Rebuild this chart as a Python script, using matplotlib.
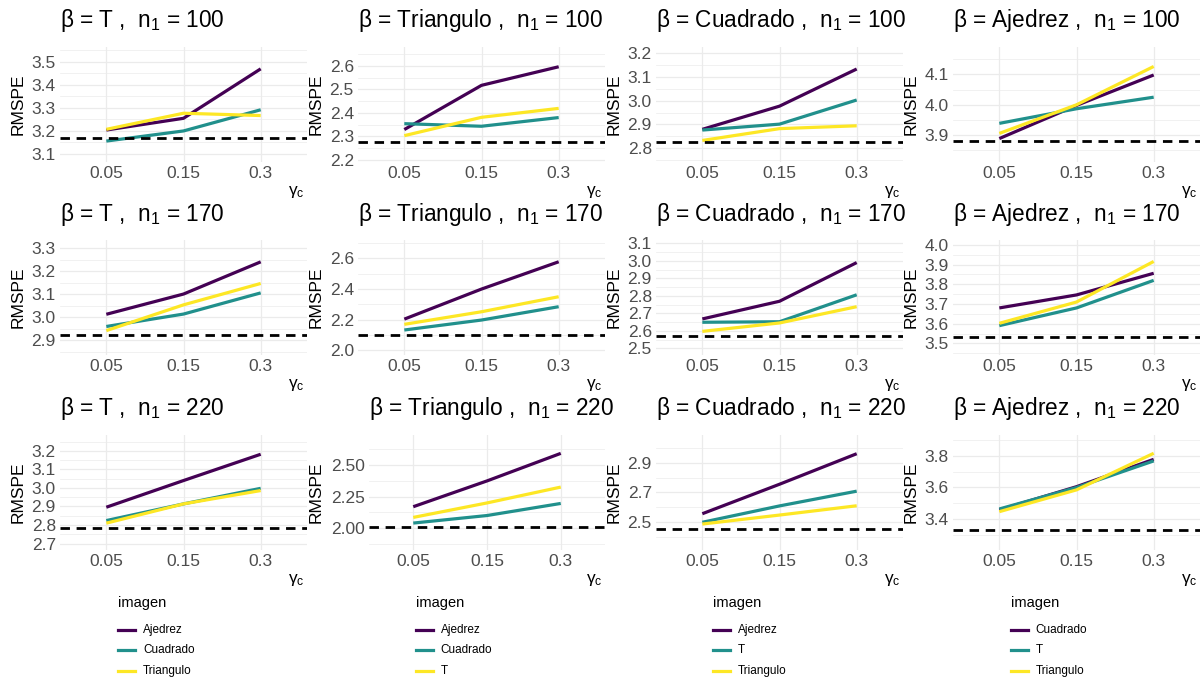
import matplotlib
matplotlib.use('Agg')
import matplotlib.pyplot as plt
from matplotlib.lines import Line2D
from matplotlib.ticker import FixedLocator, FormatStrFormatter

plt.rcParams['font.family'] = ['Liberation Sans', 'DejaVu Sans']
plt.rcParams['mathtext.fontset'] = 'custom'
plt.rcParams['mathtext.rm'] = 'Liberation Sans'
plt.rcParams['mathtext.it'] = 'Liberation Sans'
plt.rcParams['mathtext.bf'] = 'Liberation Sans:bold'
plt.rcParams['mathtext.default'] = 'rm'

# ---------------- data ----------------
gamma_labels = ['0.05', '0.15', '0.3']
n1_values = [100, 170, 220]
beta_names = ['T', 'Triangulo', 'Cuadrado', 'Ajedrez']
series_names = [
    ['Ajedrez', 'Cuadrado', 'Triangulo'],
    ['Ajedrez', 'Cuadrado', 'T'],
    ['Ajedrez', 'T', 'Triangulo'],
    ['Cuadrado', 'T', 'Triangulo'],
]

# rows: n1 = 100, 170, 220 ; columns: gamma_c = 0.05, 0.15, 0.3
T_ajedrez = [[3.204, 3.255, 3.470], [3.013, 3.101, 3.241], [2.896, 3.040, 3.182]]
T_cuadrado = [[3.156, 3.200, 3.292], [2.960, 3.014, 3.106], [2.824, 2.914, 2.998]]
T_triangulo = [[3.207, 3.277, 3.267], [2.942, 3.054, 3.147], [2.810, 2.914, 2.986]]
T_baseline = [3.168, 2.925, 2.786]

Tri_ajedrez = [[2.329, 2.517, 2.596], [2.204, 2.400, 2.578], [2.170, 2.375, 2.594]]
Tri_cuadrado = [[2.354, 2.343, 2.380], [2.133, 2.198, 2.285], [2.040, 2.100, 2.196]]
Tri_T = [[2.303, 2.381, 2.419], [2.170, 2.252, 2.350], [2.085, 2.200, 2.326]]
Tri_baseline = [2.276, 2.100, 2.005]

Cua_ajedrez = [[2.879, 2.977, 3.134], [2.668, 2.769, 2.990], [2.556, 2.756, 2.963]]
Cua_T = [[2.876, 2.901, 3.003], [2.649, 2.652, 2.806], [2.498, 2.609, 2.709]]
Cua_triangulo = [[2.832, 2.882, 2.894], [2.597, 2.645, 2.738], [2.486, 2.547, 2.610]]
Cua_baseline = [2.825, 2.571, 2.451]

Aje_cuadrado = [[3.889, 3.998, 4.098], [3.680, 3.746, 3.856], [3.459, 3.605, 3.777]]
Aje_T = [[3.939, 3.987, 4.025], [3.590, 3.680, 3.820], [3.465, 3.600, 3.767]]
Aje_triangulo = [[3.906, 4.000, 4.126], [3.602, 3.710, 3.916], [3.448, 3.585, 3.815]]
Aje_baseline = [3.881, 3.534, 3.333]

# y tick labels shown on each panel (row, column)
yticks = [
    [[3.1, 3.2, 3.3, 3.4, 3.5], [2.2, 2.3, 2.4, 2.5, 2.6], [2.8, 2.9, 3.0, 3.1, 3.2], [3.9, 4.0, 4.1]],
    [[2.9, 3.0, 3.1, 3.2, 3.3], [2.0, 2.2, 2.4, 2.6], [2.5, 2.6, 2.7, 2.8, 2.9, 3.0, 3.1], [3.5, 3.6, 3.7, 3.8, 3.9, 4.0]],
    [[2.7, 2.8, 2.9, 3.0, 3.1, 3.2], [2.00, 2.25, 2.50], [2.5, 2.7, 2.9], [3.4, 3.6, 3.8]],
]

column_series = [
    [T_ajedrez, T_cuadrado, T_triangulo],
    [Tri_ajedrez, Tri_cuadrado, Tri_T],
    [Cua_ajedrez, Cua_T, Cua_triangulo],
    [Aje_cuadrado, Aje_T, Aje_triangulo],
]
column_baselines = [T_baseline, Tri_baseline, Cua_baseline, Aje_baseline]

# ---------------- layout / style ----------------
colors = ['#440154', '#21908C', '#FDE725']
W, H = 1204, 680
col_left = [60, 358, 656, 953]
col_right = [307, 605, 903, 1200]
row_top = [47, 240, 435]
ph = 115

ylims = [
    [(3.065, 3.565), (2.191, 2.680), (2.741, 3.227), (3.812, 4.190)],
    [(2.836, 3.336), (1.970, 2.720), (2.462, 3.119), (3.441, 4.025)],
    [(2.665, 3.286), (1.826, 2.740), (2.310, 3.090), (3.207, 3.930)],
]

fig = plt.figure(figsize=(W / 100, H / 100), dpi=100)
fig.patch.set_facecolor('white')

for r in range(3):
    for c in range(4):
        ticks = yticks[r][c]
        two_dec = any(abs(round(v, 1) - v) > 1e-9 for v in ticks)
        extra = 11 if two_dec else 0   # wider tick labels push the panel right
        l, t = col_left[c] + extra, row_top[r]
        pw = col_right[c] - l
        ax = fig.add_axes([l / W, 1 - (t + ph) / H, pw / W, ph / H])
        x = list(range(len(gamma_labels)))
        for s in range(3):
            ax.plot(x, column_series[c][s][r], color=colors[s], lw=2.3,
                    solid_capstyle='butt', zorder=3)
        ax.axhline(column_baselines[c][r], color='black', lw=2.0,
                   dashes=(3.4, 2.4), zorder=4)
        ax.set_xlim(-0.6, 2.6)
        ax.set_ylim(*ylims[r][c])
        ax.set_xticks(x)
        ax.set_xticklabels(gamma_labels)
        step = ticks[1] - ticks[0]
        minors = [ticks[0] - step / 2] + [v + step / 2 for v in ticks]
        ax.yaxis.set_major_locator(FixedLocator(ticks))
        ax.yaxis.set_minor_locator(FixedLocator(minors))
        ax.yaxis.set_major_formatter(FormatStrFormatter('%.2f' if two_dec else '%.1f'))
        for sp in ax.spines.values():
            sp.set_visible(False)
        ax.tick_params(axis='both', which='both', length=0, labelsize=12.5,
                       labelcolor='#4D4D4D', pad=3)
        ax.grid(True, which='major', color='#EBEBEB', lw=0.9)
        ax.grid(True, which='minor', axis='y', color='#EBEBEB', lw=0.5)
        ax.set_axisbelow(True)
        ax.set_facecolor('white')
        # title
        title = 'β = %s ,  n$_1$ = %d' % (beta_names[c], n1_values[r])
        fig.text(l / W, 1 - (t - 26) / H, title, fontsize=16.3, ha='left', va='center')
        # y label
        fig.text((col_left[c] - 42) / W, 1 - (t + ph / 2) / H, 'RMSPE', fontsize=12.5,
                 rotation=90, ha='center', va='center')
        # x label
        fig.text((l + pw - 2) / W, 1 - (t + ph + 30) / H, r'$\gamma_c$', fontsize=12.5,
                 ha='right', va='center')

# legends
for c in range(4):
    x0 = 118 + 297.5 * c
    fig.text(x0 / W, 1 - 603 / H, 'imagen', fontsize=10.5, ha='left', va='center')
    for s, yy in enumerate([630, 650, 671]):
        fig.add_artist(Line2D([x0 / W, (x0 + 17) / W], [1 - yy / H, 1 - yy / H],
                              color=colors[s], lw=2.3, transform=fig.transFigure))
        fig.text((x0 + 25) / W, 1 - yy / H, series_names[c][s], fontsize=8.5,
                 ha='left', va='center')

fig.savefig('out.png', dpi=100)
